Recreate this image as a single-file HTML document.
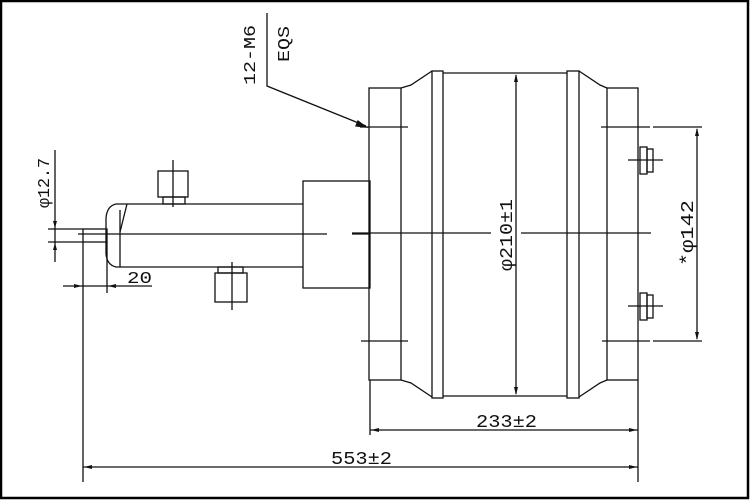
<!DOCTYPE html>
<html><head><meta charset="utf-8"><style>
html,body{margin:0;padding:0;background:#fff}
svg{display:block}
text{font-family:"Liberation Mono",monospace;fill:#111}
</style></head><body>
<svg width="750" height="500" viewBox="0 0 750 500" xmlns="http://www.w3.org/2000/svg">
<rect x="1" y="1" width="747" height="497" fill="none" stroke="#000" stroke-width="2.5"/>
<g stroke="#111" stroke-width="1.3" fill="none">
<polyline points="267,13 267,86 366,126"/>
<polygon points="366,127 358,121 356,126" fill="#111"/>
<rect x="83" y="229" width="24" height="13"/>
<path d="M127,204 L116,204 Q107,206 106,218 L106,254 Q107,265 116,267 L127,267"/>
<line x1="120" y1="210" x2="120" y2="267"/>
<line x1="127" y1="204" x2="120" y2="232"/>
<line x1="127" y1="204" x2="303" y2="204"/>
<line x1="127" y1="267" x2="303" y2="267"/>
<rect x="158" y="171" width="30" height="26"/>
<rect x="163" y="197" width="22" height="7"/>
<line x1="173" y1="160" x2="173" y2="207"/>
<rect x="215" y="273" width="32" height="29"/>
<rect x="218" y="267" width="25" height="6"/>
<line x1="232" y1="262" x2="232" y2="310"/>
<rect x="303" y="181" width="67" height="107"/>
<line x1="78" y1="234" x2="327" y2="234"/>
<line x1="352" y1="234" x2="370" y2="234"/>
<line x1="352" y1="233" x2="491" y2="233"/>
<line x1="521" y1="233" x2="651" y2="233"/>
<rect x="369" y="88" width="32" height="292"/>
<rect x="607" y="88" width="31" height="292"/>
<rect x="432" y="71" width="11" height="327"/>
<rect x="567" y="71" width="12" height="327"/>
<line x1="443" y1="73" x2="567" y2="73"/>
<line x1="443" y1="396" x2="567" y2="396"/>
<polyline points="401,88 411,85 432,71"/>
<polyline points="401,380 411,383 432,397"/>
<polyline points="579,71 600,85 607,88"/>
<polyline points="579,397 600,383 607,380"/>
<line x1="360" y1="127" x2="408" y2="127"/>
<line x1="361" y1="341" x2="408" y2="341"/>
<line x1="601" y1="127" x2="650" y2="127"/>
<line x1="653" y1="127" x2="702" y2="127"/>
<line x1="602" y1="341" x2="650" y2="341"/>
<line x1="653" y1="341" x2="702" y2="341"/>
<line x1="516" y1="75" x2="516" y2="394"/>
<line x1="697" y1="129" x2="697" y2="339"/>
<rect x="640" y="147" width="7" height="27"/>
<rect x="647" y="149" width="6" height="23"/>
<line x1="628" y1="160" x2="663" y2="160"/>
<rect x="640" y="293" width="7" height="27"/>
<rect x="647" y="295" width="6" height="23"/>
<line x1="628" y1="306" x2="663" y2="306"/>
<line x1="370" y1="380" x2="370" y2="435"/>
<line x1="638" y1="380" x2="638" y2="482"/>
<line x1="370" y1="430" x2="638" y2="430"/>
<line x1="83" y1="242" x2="83" y2="482"/>
<line x1="83" y1="467" x2="638" y2="467"/>
<line x1="107" y1="242" x2="107" y2="293"/>
<line x1="63" y1="286" x2="152" y2="286"/>
<line x1="55" y1="150" x2="55" y2="262"/>
<line x1="48" y1="229" x2="83" y2="229"/>
<line x1="48" y1="242" x2="83" y2="242"/>
</g>
<g fill="#111">
<polygon points="516,74 514,82 518,82"/>
<polygon points="516,395 514,387 518,387"/>
<polygon points="697,128 695,136 699,136"/>
<polygon points="697,340 695,332 699,332"/>
<polygon points="371,430 379,428 379,432"/>
<polygon points="637,430 629,428 629,432"/>
<polygon points="84,467 92,465 92,469"/>
<polygon points="637,467 629,465 629,469"/>
<polygon points="82,286 74,284 74,288"/>
<polygon points="108,286 116,284 116,288"/>
<polygon points="55,228 53,221 57,221"/>
<polygon points="55,243 53,250 57,250"/>
</g>
<text x="-30" y="0" font-size="17" textLength="60" lengthAdjust="spacingAndGlyphs" transform="translate(255,55) rotate(-90)">12-M6</text>
<text x="-18" y="0" font-size="17" textLength="36" lengthAdjust="spacingAndGlyphs" transform="translate(289,44) rotate(-90)">EQS</text>
<text x="-25" y="0" font-size="17" textLength="50" lengthAdjust="spacingAndGlyphs" transform="translate(49,183) rotate(-90)">φ12.7</text>
<text x="127" y="283" font-size="17" textLength="25" lengthAdjust="spacingAndGlyphs">20</text>
<text x="-36" y="0" font-size="18" textLength="72" lengthAdjust="spacingAndGlyphs" transform="translate(512,235) rotate(-90)">φ210±1</text>
<text x="-33" y="0" font-size="18" textLength="66" lengthAdjust="spacingAndGlyphs" transform="translate(693,233) rotate(-90)">*φ142</text>
<text x="476" y="427" font-size="18" textLength="61" lengthAdjust="spacingAndGlyphs">233±2</text>
<text x="331" y="464" font-size="18" textLength="61" lengthAdjust="spacingAndGlyphs">553±2</text>
</svg>
</body></html>
